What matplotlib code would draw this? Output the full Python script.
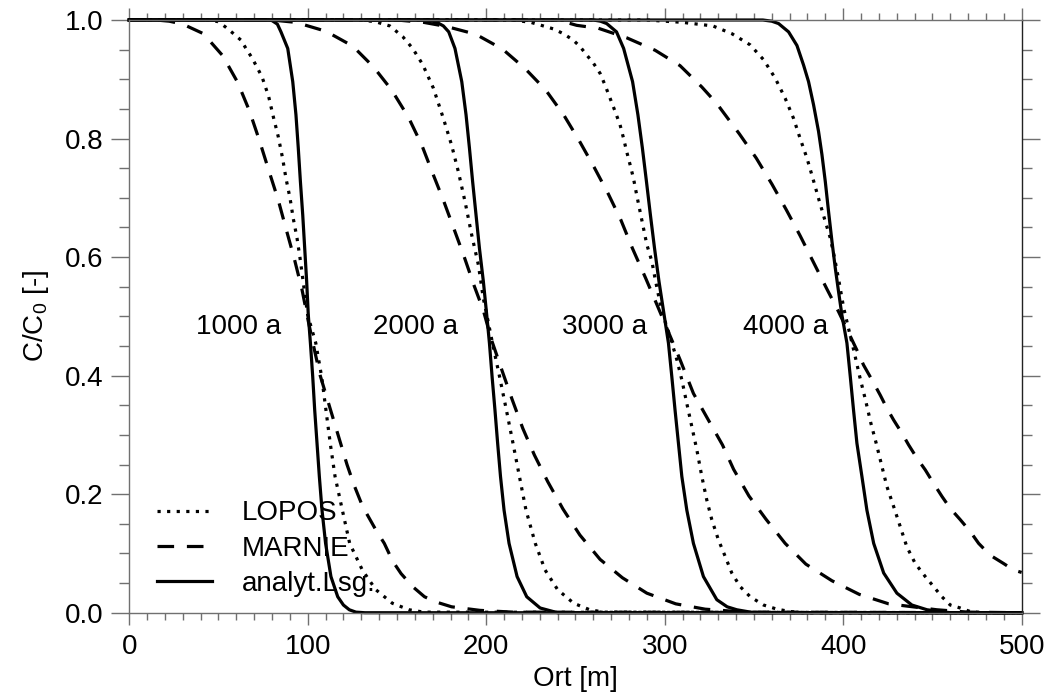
import matplotlib
matplotlib.use("Agg")
import matplotlib.pyplot as plt
from matplotlib.ticker import MultipleLocator, FormatStrFormatter

plt.rcParams['font.family'] = 'Liberation Sans'
plt.rcParams['mathtext.fontset'] = 'custom'
plt.rcParams['mathtext.rm'] = 'Liberation Sans'
plt.rcParams['mathtext.default'] = 'regular'

# --- analytical solution (analyt.Lsg.) ---
analyt_1000_x = [0, 78, 80, 83, 85, 88.8, 91.6, 93.4, 94.7, 95.9, 97.2, 98.3, 99.4, 100.3, 101.5, 102.8,
                 103.9, 105.2, 106.5, 108, 110, 113, 116.8, 120, 123.3, 127, 132, 500]
analyt_1000_y = [1, 1, 0.999, 0.993, 0.98, 0.952, 0.896, 0.84, 0.784, 0.727, 0.671, 0.615, 0.559, 0.503,
                 0.455, 0.398, 0.342, 0.286, 0.23, 0.173, 0.117, 0.061, 0.027, 0.013, 0.005, 0.001, 0, 0]

analyt_2000_x = [0, 166, 170, 173, 176, 179, 182.5, 186.3, 188.7, 190.6, 192.4, 194.3, 196.2, 198.4, 200.3,
                 201.8, 203.3, 204.9, 206.4, 208, 210, 212.8, 217.3, 222.7, 230.2, 240, 500]
analyt_2000_y = [1, 1, 0.998, 0.995, 0.99, 0.98, 0.952, 0.896, 0.84, 0.784, 0.727, 0.671, 0.615, 0.559, 0.502,
                 0.455, 0.398, 0.342, 0.286, 0.23, 0.173, 0.117, 0.061, 0.027, 0.008, 0, 0]

analyt_3000_x = [0, 260, 264, 267.5, 273, 277, 282, 285, 287.5, 289.8, 292, 294.3, 296.8, 299.7, 302.1, 304,
                 305.8, 307.7, 309.6, 312.4, 316.1, 321.7, 329.2, 335, 340.4, 350, 500]
analyt_3000_y = [1, 1, 0.998, 0.994, 0.98, 0.952, 0.896, 0.84, 0.784, 0.727, 0.671, 0.615, 0.559, 0.502, 0.455,
                 0.398, 0.342, 0.286, 0.23, 0.173, 0.117, 0.061, 0.022, 0.01, 0.005, 0, 0]

analyt_4000_x = [0, 355, 360, 363.8, 369.4, 374.1, 377.8, 380.6, 383.4, 386.2, 388.1, 390, 391.8, 393.7, 395.6,
                 397.4, 399.3, 402.1, 404, 405.8, 407.7, 410.5, 413.3, 417.1, 422.7, 430.1, 438.5, 447, 460, 500]
analyt_4000_y = [1, 1, 0.998, 0.994, 0.98, 0.957, 0.924, 0.896, 0.857, 0.812, 0.773, 0.727, 0.677, 0.627, 0.581,
                 0.542, 0.502, 0.455, 0.398, 0.342, 0.286, 0.23, 0.173, 0.117, 0.067, 0.033, 0.013, 0.005, 0, 0]

# --- LOPOS ---
lopos_1000_x = [0, 45, 50, 54, 58, 62.6, 65.4, 69, 74.4, 78.1, 80.7, 83.5, 85.9, 87.8, 90.1, 91.9, 94, 95.7,
                97.2, 98.7, 100, 104.5, 107.8, 110.2, 112.6, 115.3, 119.4, 123.5, 130.6, 138.1, 147.4, 156.8,
                165, 500]
lopos_1000_y = [1, 1, 0.997, 0.988, 0.978, 0.966, 0.952, 0.935, 0.904, 0.871, 0.837, 0.803, 0.767, 0.733,
                0.699, 0.665, 0.632, 0.598, 0.564, 0.53, 0.502, 0.455, 0.398, 0.342, 0.286, 0.23, 0.173, 0.117,
                0.072, 0.039, 0.016, 0.005, 0.001, 0]

lopos_2000_x = [0, 130, 138, 146, 153.2, 158.8, 164.4, 170.4, 176, 180.6, 184.4, 188.1, 191.9, 195.6, 198.4,
                200.5, 203.5, 207.5, 211.3, 215, 218.6, 222.3, 227.5, 233, 240, 249, 258, 266, 500]
lopos_2000_y = [1, 1, 0.997, 0.99, 0.972, 0.952, 0.925, 0.885, 0.834, 0.789, 0.744, 0.694, 0.637, 0.587, 0.53,
                0.5, 0.455, 0.398, 0.342, 0.286, 0.23, 0.173, 0.117, 0.072, 0.039, 0.016, 0.005, 0.001, 0]

lopos_3000_x = [0, 215, 225, 232, 237.6, 243.2, 248.8, 252.6, 256.3, 260.1, 263.8, 266.6, 269.4, 272.2, 275,
                276.9, 278.7, 280.6, 282.5, 284.3, 286.2, 288.1, 290, 292.8, 294.6, 296.5, 298.4, 303, 306.8,
                309.6, 312.4, 315.2, 318, 320.8, 323.6, 326.4, 330.1, 333.9, 337.6, 342.3, 347.9, 355.4, 362.9,
                370.3, 378, 500]
lopos_3000_y = [1, 1, 0.996, 0.99, 0.985, 0.977, 0.966, 0.955, 0.941, 0.927, 0.91, 0.89, 0.868, 0.846, 0.823,
                0.801, 0.778, 0.756, 0.733, 0.705, 0.677, 0.649, 0.621, 0.593, 0.564, 0.536, 0.508, 0.466, 0.427,
                0.393, 0.353, 0.314, 0.275, 0.23, 0.19, 0.157, 0.123, 0.095, 0.067, 0.044, 0.027, 0.013, 0.006,
                0.002, 0, 0]

lopos_4000_x = [0, 290, 310, 327, 337.6, 347.9, 355.4, 361.9, 367.5, 372.2, 375.9, 379.7, 383, 386.2, 389.4,
                392.8, 395.2, 397.6, 400.3, 403.2, 406.3, 409.3, 412.5, 415.5, 418.5, 421.7, 424.5, 428.3, 432,
                435.7, 440.4, 446, 450.7, 455.3, 460, 465.6, 471.2, 480, 500]
lopos_4000_y = [1, 1, 0.996, 0.99, 0.977, 0.958, 0.933, 0.902, 0.868, 0.834, 0.8, 0.767, 0.733, 0.699, 0.666,
                0.632, 0.598, 0.56, 0.514, 0.477, 0.438, 0.398, 0.359, 0.32, 0.286, 0.247, 0.213, 0.179, 0.145,
                0.111, 0.083, 0.061, 0.044, 0.027, 0.013, 0.008, 0.002, 0, 0]

# --- MARNIE ---
marnie_1000_x = [0, 15, 22.4, 30, 41.5, 52.3, 60.7, 67.3, 72.9, 78.1, 83.5, 88, 92.5, 96.8, 100.3, 104, 107,
                 111.5, 117, 122, 126, 130.8, 138.3, 142.9, 147.6, 152.3, 158.8, 165.4, 172, 180.6, 196.5, 215,
                 500]
marnie_1000_y = [1, 1, 0.998, 0.993, 0.977, 0.94, 0.895, 0.847, 0.797, 0.747, 0.696, 0.646, 0.597, 0.545,
                 0.492, 0.44, 0.40, 0.355, 0.30, 0.25, 0.215, 0.179, 0.139, 0.117, 0.087, 0.066, 0.044, 0.027,
                 0.018, 0.01, 0.004, 0.001, 0]

marnie_2000_x = [0, 80, 93.4, 110.2, 125.2, 136.8, 147, 156.4, 163.9, 169.8, 176, 182, 187.6, 193.2, 198.4,
                 203, 208.7, 214.5, 220.5, 227, 234.5, 243, 252.5, 263.8, 276.3, 290, 306.2, 322.7, 345, 500]
marnie_2000_y = [1, 1, 0.996, 0.981, 0.956, 0.921, 0.882, 0.836, 0.789, 0.743, 0.696, 0.647, 0.601, 0.552,
                 0.51, 0.46, 0.41, 0.36, 0.311, 0.266, 0.221, 0.175, 0.131, 0.09, 0.059, 0.033, 0.015, 0.006,
                 0.001, 0]

marnie_3000_x = [0, 150, 165, 177.8, 194.1, 209.1, 221.8, 233.3, 243.6, 252, 260.4, 268.5, 275.4, 281.9,
                 289.4, 295.9, 308.6, 316.1, 324.5, 332.4, 338.6, 347.2, 356.7, 367.5, 379.1, 393.7, 409,
                 425.5, 441.7, 452.5, 470, 500]
marnie_3000_y = [1, 1, 0.996, 0.989, 0.976, 0.951, 0.918, 0.882, 0.839, 0.797, 0.752, 0.706, 0.663, 0.615,
                 0.564, 0.518, 0.427, 0.37, 0.325, 0.283, 0.242, 0.197, 0.158, 0.117, 0.082, 0.054, 0.031,
                 0.015, 0.009, 0.005, 0.001, 0]

marnie_4000_x = [0, 240, 250.7, 262.9, 278.7, 294.6, 308.6, 320.8, 329.2, 341.8, 351.3, 360.1, 368.1, 375.9,
                 383.4, 390.9, 397.4, 407.7, 411.4, 416.1, 420.8, 424.5, 428.3, 432.9, 436.7, 441.3, 446, 450.7,
                 455.4, 460, 465.6, 471.2, 475.9, 482.4, 489.9, 495.5, 500]
marnie_4000_y = [1, 1, 0.991, 0.986, 0.97, 0.949, 0.923, 0.887, 0.859, 0.808, 0.767, 0.723, 0.68, 0.636,
                 0.591, 0.546, 0.508, 0.443, 0.418, 0.393, 0.367, 0.345, 0.325, 0.303, 0.283, 0.261, 0.241,
                 0.218, 0.196, 0.176, 0.157, 0.137, 0.117, 0.097, 0.083, 0.072, 0.068]

time_labels = ['1000 a', '2000 a', '3000 a', '4000 a']
label_x = [37.5, 136.5, 242.5, 344]
label_y = 0.471

legend_names = ['LOPOS', 'MARNIE', 'analyt.Lsg.']

lw = 2.3
dotted = (0, (1, 2.0))
dashed = (0, (5.2, 4.0))

fig = plt.figure(figsize=(10.5, 6.97), dpi=100)
ax = fig.add_axes([0.1231, 0.1209, 0.8499, 0.8504])

lopos = [(lopos_1000_x, lopos_1000_y), (lopos_2000_x, lopos_2000_y),
         (lopos_3000_x, lopos_3000_y), (lopos_4000_x, lopos_4000_y)]
marnie = [(marnie_1000_x, marnie_1000_y), (marnie_2000_x, marnie_2000_y),
          (marnie_3000_x, marnie_3000_y), (marnie_4000_x, marnie_4000_y)]
analyt = [(analyt_1000_x, analyt_1000_y), (analyt_2000_x, analyt_2000_y),
          (analyt_3000_x, analyt_3000_y), (analyt_4000_x, analyt_4000_y)]

handles = []
for i, (xs, ys) in enumerate(lopos):
    h, = ax.plot(xs, ys, color='black', lw=lw, linestyle=dotted, clip_on=False)
    if i == 0:
        handles.append(h)
for i, (xs, ys) in enumerate(marnie):
    h, = ax.plot(xs, ys, color='black', lw=lw, linestyle=dashed, clip_on=False)
    if i == 0:
        handles.append(h)
for i, (xs, ys) in enumerate(analyt):
    h, = ax.plot(xs, ys, color='black', lw=lw, linestyle='-', clip_on=False)
    if i == 0:
        handles.append(h)

for txt, tx in zip(time_labels, label_x):
    ax.text(tx, label_y, txt, fontsize=20, ha='left', va='baseline')

ax.set_xlim(0, 500)
ax.set_ylim(0, 1.0)
ax.xaxis.set_major_locator(MultipleLocator(100))
ax.xaxis.set_minor_locator(MultipleLocator(10))
ax.yaxis.set_major_locator(MultipleLocator(0.2))
ax.yaxis.set_minor_locator(MultipleLocator(0.05))
ax.yaxis.set_major_formatter(FormatStrFormatter('%.1f'))

axis_grey = '#707070'
for side in ['left', 'bottom', 'top']:
    ax.spines[side].set_color(axis_grey)
ax.spines['right'].set_color('#222222')
for sp in ax.spines.values():
    sp.set_linewidth(1.0)

ax.tick_params(axis='x', which='major', direction='out', length=8.4, width=1.0, color=axis_grey,
               top=True, labelsize=20, pad=7)
ax.tick_params(axis='x', which='minor', direction='out', length=4.7, width=1.0, color=axis_grey, top=True)
ax.tick_params(axis='y', which='major', direction='out', length=12.7, width=1.0, color=axis_grey,
               right=True, labelsize=20, pad=6)
ax.tick_params(axis='y', which='minor', direction='out', length=7, width=1.0, color=axis_grey, right=True)

ax.set_xlabel('Ort [m]', fontsize=20)
ax.set_ylabel('C/C$_0$ [-]', fontsize=20)
ax.xaxis.set_label_coords(0.5, -0.09)
ax.yaxis.set_label_coords(-0.088, 0.5)

ax.legend(handles, legend_names, loc='lower left', bbox_to_anchor=(0.031, 0.027), frameon=False,
          fontsize=20, handlelength=2.0, handletextpad=1.07, labelspacing=0.33, borderpad=0,
          borderaxespad=0)

fig.savefig('out.png', dpi=100)
